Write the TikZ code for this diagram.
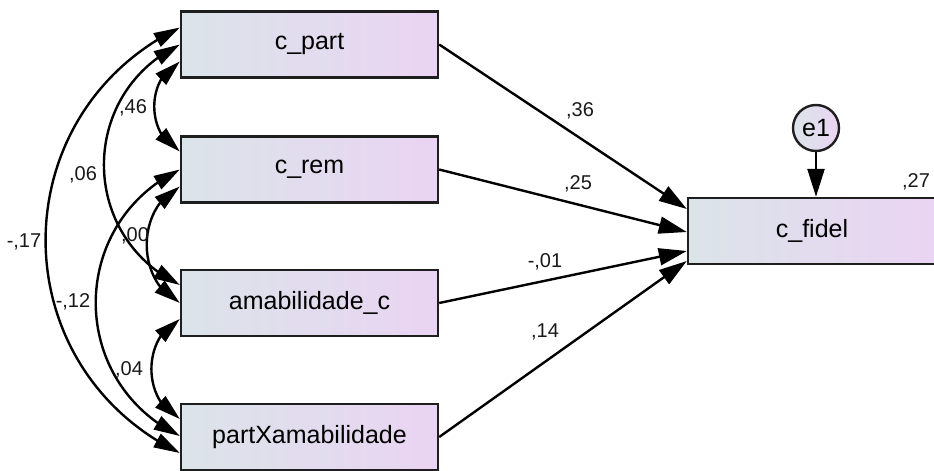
\documentclass[tikz,border=0pt]{standalone}
\usepackage{fontspec}
\setmainfont{Liberation Sans}
\usetikzlibrary{arrows.meta,bending}
\definecolor{boxL}{RGB}{219,228,233}
\definecolor{boxR}{RGB}{234,212,243}
\definecolor{edgec}{RGB}{30,30,30}
\begin{document}
\begin{tikzpicture}[x=1pt,y=-1pt,
  var/.style={draw=edgec, line width=2.4pt, left color=boxL, right color=boxR,
    minimum width=257pt, minimum height=66pt, inner sep=0pt,
    font=\fontsize{25}{25}\selectfont},
  errv/.style={circle, draw=edgec, line width=2.4pt, left color=boxL, right color=boxR,
    minimum size=46pt, inner sep=0pt, font=\fontsize{25}{25}\selectfont},
  reg/.style={line width=2.4pt, draw=black, -{Triangle[length=28pt,width=17pt]}},
  cov/.style={line width=2.4pt, draw=black,
    {Triangle[length=26pt,width=15pt]}-{Triangle[length=26pt,width=15pt]},
    bend right=64, looseness=1.2},
  covs/.style={cov, looseness=1.08},
  lab/.style={font=\fontsize{20}{20}\selectfont, inner sep=0pt, text=black!90}]
\useasboundingbox (0,0) rectangle (934,471);
\clip (0,0) rectangle (934,471);

% observed variables
\node[var] (cpart) at (309.5,44.5) {c\_part};
\node[var] (crem)  at (309.5,169.5) {c\_rem};
\node[var] (amab)  at (309.5,303) {amabilidade\_c};
\node[var] (partx) at (309.5,437) {partXamabilidade};
\node[var, minimum width=248pt] (cfidel) at (812,231) {c\_fidel};
\node[errv] (e1) at (816,128) {e1};

% regression paths
\draw[reg] (cpart.east) -- ([yshift=22pt]cfidel.west);
\draw[reg] (crem.east)  -- ([yshift=-1pt]cfidel.west);
\draw[reg] (amab.east)  -- ([yshift=-20pt]cfidel.west);
\draw[reg] (partx.east) -- ([yshift=-30pt]cfidel.west);
\draw[reg] (e1.south) -- (e1.south |- cfidel.north);

% covariances
\draw[cov]  ([yshift=17pt]cpart.west) to ([yshift=-16pt]partx.west);
\draw[cov]  ([yshift=0pt]cpart.west)  to ([yshift=18pt]amab.west);
\draw[covs] ([yshift=-17pt]cpart.west) to ([yshift=18pt]crem.west);
\draw[covs] ([yshift=-17pt]crem.west) to ([yshift=0pt]amab.west);
\draw[cov]  ([yshift=0pt]crem.west)   to ([yshift=1pt]partx.west);
\draw[covs] ([yshift=-16pt]amab.west) to ([yshift=18pt]partx.west);

% labels
\node[lab] (l36) at (580,111) {,36};
\node[lab] (l25) at (578,184) {,25};
\node[lab] (l01) at (545,262) {-,01};
\node[lab] (l14) at (545,332) {,14};
\node[lab] (l27) at (916,182) {,27};
\node[lab] (l46) at (133,108) {,46};
\node[lab] (l06) at (83,175) {,06};
\node[lab] (l17) at (24,242) {-,17};
\node[lab] (l00) at (135,236) {,00};
\node[lab] (l12) at (73,302) {-,12};
\node[lab] (l04) at (129,370) {,04};
\end{tikzpicture}
\end{document}
